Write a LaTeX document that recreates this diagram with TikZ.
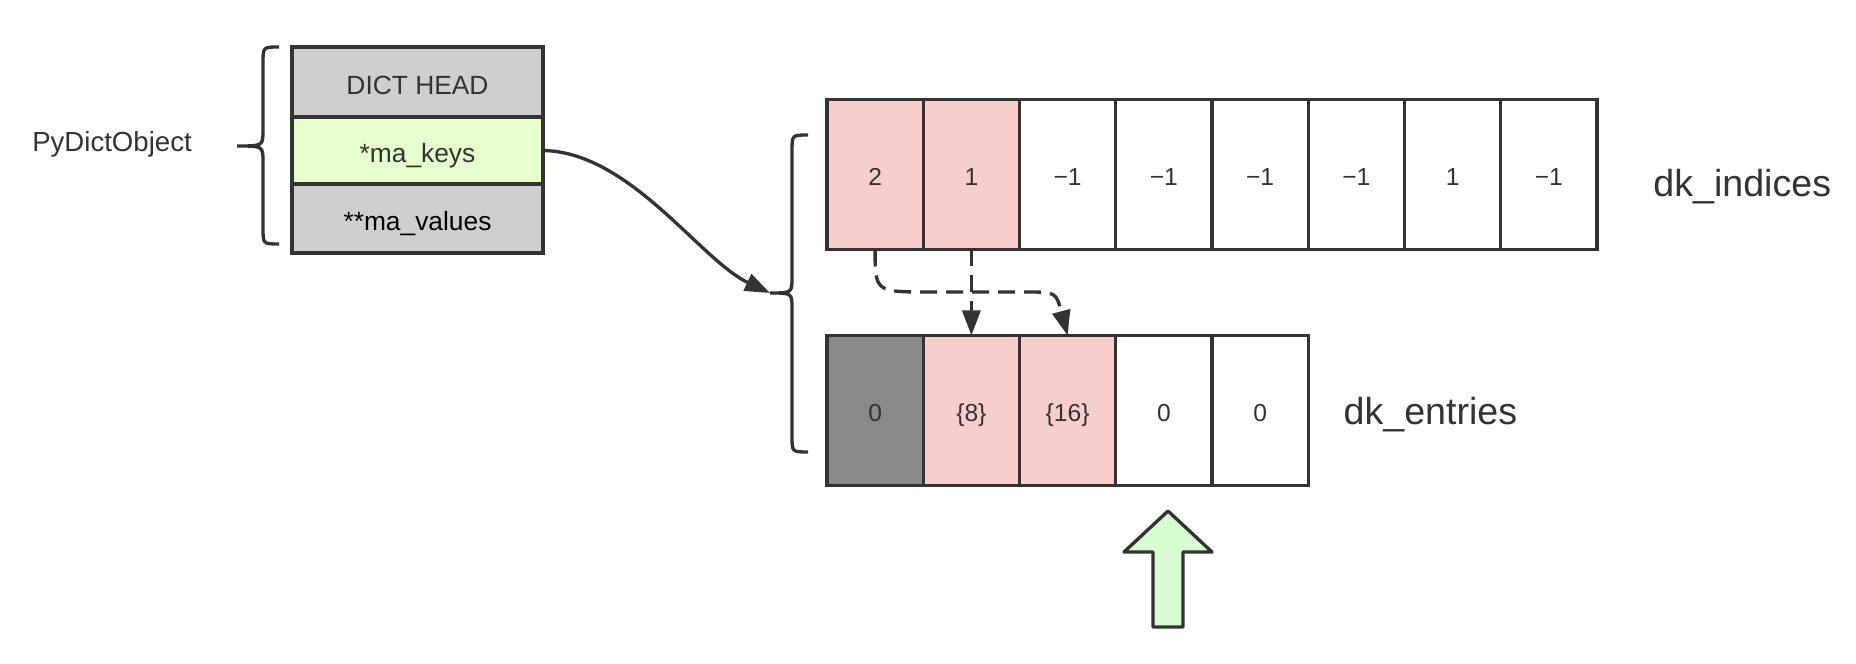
\documentclass[tikz,border=0pt]{standalone}
\definecolor{mLine}{HTML}{333333}
\definecolor{mPink}{HTML}{F8CECC}
\definecolor{mGray}{HTML}{CFCFCF}
\definecolor{mDarkGray}{HTML}{8A8A8A}
\definecolor{mLightGreen}{HTML}{E6FFCC}
\definecolor{mArrowGreen}{HTML}{D5FDD0}
\usepackage{fontspec}
\setmainfont{Liberation Sans}
\usepackage{tikz}
\usetikzlibrary{positioning,arrows.meta}

\begin{document}
\begin{tikzpicture}[font=\fontsize{7.5}{9}\selectfont, text=mLine,
  field/.style={draw=mLine, line width=0.95pt, outer sep=0pt, inner sep=0pt, minimum width=2.51cm, text height=7.1pt, text depth=0pt},
  cell/.style={draw=mLine, line width=0.95pt, outer sep=0pt, inner sep=0pt, minimum width=0.9625cm, minimum height=1.5cm, text height=6.4pt, text depth=0pt, font=\fontsize{7}{8}\selectfont},
  link/.style={mLine, line width=0.95pt, -{Triangle[length=0.25cm,width=0.18cm]}},
  dashlink/.style={link, dash pattern=on 0.17cm off 0.09cm},
  brace/.style={mLine, line width=0.95pt},
  biglabel/.style={font=\fontsize{10.7}{12}\selectfont}]
\useasboundingbox (0,0) rectangle (18.56,6.64);
% PyDictObject
\node[field, fill=mGray, minimum height=0.70cm] (head) at (4.175,5.82) {DICT HEAD};
\node[field, fill=mLightGreen, minimum height=0.67cm, below=0pt of head] (keys) {*ma\_keys};
\node[field, fill=mGray, minimum height=0.69cm, below=0pt of keys, text=black] (values) {**ma\_values};
\node[font=\fontsize{7.85}{9}\selectfont] (objlbl) at (1.12,5.20) {PyDictObject};
\draw[brace] (2.79,6.17) .. controls (2.63,6.17) .. (2.63,6.01) -- (2.63,5.34) .. controls (2.63,5.18) .. (2.37,5.18) .. controls (2.63,5.18) .. (2.63,5.02) -- (2.63,4.36) .. controls (2.63,4.20) .. (2.79,4.20);
% keys object
\foreach \v/\f [count=\i] in {2/mPink,1/mPink,−1/white,−1/white,−1/white,−1/white,1/white,−1/white}
  \node[cell, fill=\f] (i\i) at (8.27+0.9625*\i-0.48125,4.895) {\v};
\foreach \v/\f [count=\i] in {0/mDarkGray,\{8\}/mPink,\{16\}/mPink,0/white,0/white}
  \node[cell, fill=\f] (e\i) at (8.27+0.9625*\i-0.48125,2.535) {\v};
\node[biglabel, right=0.44cm of i8, yshift=-0.12cm] (indiceslbl) {dk\_indices};
\node[biglabel, right=0.23cm of e5, yshift=-0.04cm] (entrieslbl) {dk\_entries};
\coordinate (tip) at (7.70,3.71);
\draw[brace] (8.08,5.29) .. controls (7.92,5.29) .. (7.92,5.13) -- (7.92,3.87) .. controls (7.92,3.71) .. (tip) .. controls (7.92,3.71) .. (7.92,3.55) -- (7.92,2.28) .. controls (7.92,2.12) .. (8.08,2.12);
% pointers
\draw[link] (keys.east) .. controls (6.30,5.12) and (7.00,4.04) .. (tip);
\draw[dashlink] (i2.south) -- (e2.north);
\draw[dashlink] (i1.south) .. controls (8.75,3.72) .. (9.30,3.72) -- (10.25,3.72) .. controls (10.56,3.72) .. (e3.north);
% next free slot
\draw[mLine, line width=0.95pt, fill=mArrowGreen, line join=round] (11.68,1.53) -- (12.12,1.12) -- (11.83,1.12) -- (11.83,0.37) -- (11.53,0.37) -- (11.53,1.12) -- (11.24,1.12) -- cycle;
\end{tikzpicture}
\end{document}
